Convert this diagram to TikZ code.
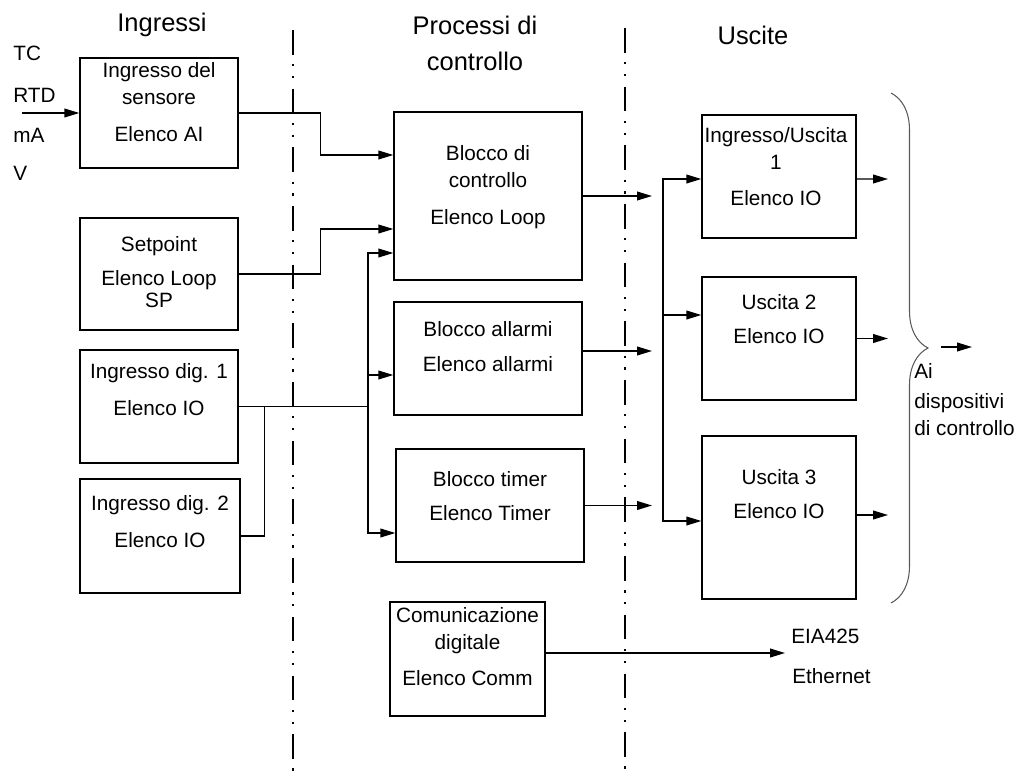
\documentclass[tikz,border=0pt]{standalone}
\usepackage{fontspec}
\setmainfont{Liberation Sans}
\usetikzlibrary{arrows.meta, decorations.pathreplacing}
\newcommand\blkfont{\fontsize{11.8}{15.3}\selectfont}
\newcommand\headfont{\fontsize{14.5}{20.4}\selectfont}

\begin{document}
\begin{tikzpicture}[
  x=0.02cm, y=-0.02cm,
  font          = \blkfont,
  %
  % ── Node styles ─────────────────────────────────────────────────
  % (txt nodes sit on the baseline of their last line)
  box/.style     = {draw, line width=0.8pt, inner sep=0pt},
  txt/.style     = {align=center, inner sep=0pt, anchor=base},
  head/.style    = {txt, font=\headfont},
  side/.style    = {align=left, inner sep=0pt, anchor=base west},
  arrow/.style   = {-{Triangle[length=8.5pt,width=5pt]}, line width=0.8pt},
  wire/.style    = {line width=0.8pt},
  divider/.style = {line width=1.5pt,
                    dash pattern=on 14pt off 5.5pt on 1.2pt off 5.5pt on 1.2pt off 6pt},
  brace/.style   = {decorate, decoration={brace, amplitude=0.74cm},
                    draw=black!65, line width=0.6pt},
]
\useasboundingbox (0,0) rectangle (1015,771);

%% ═══════════════════════════════════════════════════════════════════
%% HEADINGS and dividers
%% ═══════════════════════════════════════════════════════════════════

\node[head] (h-in)   at (162,31) {Ingressi};
\node[head] (h-proc) at (475,70) {Processi di\\controllo};
\node[head] (h-out)  at (753,44) {Uscite};

\draw[divider] (293,30) -- (293,771);
\draw[divider] (625,28) -- (625,771);

%% ═══════════════════════════════════════════════════════════════════
%% COLUMN A — Ingressi
%% ═══════════════════════════════════════════════════════════════════

\node[side] (sig-tc)  at (13,60)  {TC};
\node[side] (sig-rtd) at (13,102) {RTD};
\node[side] (sig-ma)  at (13,142) {mA};
\node[side] (sig-v)   at (13,180) {V};
\coordinate (sig-in) at (22,113);

\node[box, minimum width=3.16cm, minimum height=2.20cm] (sens) at (159,113) {};
\node[txt] (sens-txt) at (159,141) {Ingresso del\\sensore\\[5.3pt]Elenco AI};

\node[box, minimum width=3.16cm, minimum height=2.24cm] (setp) at (159,274) {};
\node[txt] (setp-txt) at (159,307) {Setpoint\\[4pt]Elenco Loop\\[-3pt]SP};

\node[box, minimum width=3.16cm, minimum height=2.26cm] (dig1) at (159,406.5) {};
\node[txt] (dig1-txt) at (159,415) {Ingresso dig. 1\\[5.3pt]Elenco IO};

\node[box, minimum width=3.20cm, minimum height=2.28cm] (dig2) at (160,536) {};
\node[txt] (dig2-txt) at (160,547) {Ingresso dig. 2\\[5.3pt]Elenco IO};

%% ── Arrows ───────────────────────────────────────────────────────
\draw[arrow] (sig-in) -- (sens.west);
\draw[wire] (dig2.east) -| ([shift={(26,0)}]dig1.east);

%% ═══════════════════════════════════════════════════════════════════
%% COLUMN B — Processi di controllo
%% ═══════════════════════════════════════════════════════════════════

\node[box, minimum width=3.76cm, minimum height=3.36cm] (loop) at (488,196) {};
\node[txt] (loop-txt) at (488,224) {Blocco di\\controllo\\[5.3pt]Elenco Loop};

\node[box, minimum width=3.76cm, minimum height=2.26cm] (alarm) at (488,358.5) {};
\node[txt] (alarm-txt) at (488,371) {Blocco allarmi\\[4.6pt]Elenco allarmi};

\node[box, minimum width=3.76cm, minimum height=2.26cm] (timer) at (490,505.5) {};
\node[txt] (timer-txt) at (490,520) {Blocco timer\\[4pt]Elenco Timer};

\node[box, minimum width=3.10cm, minimum height=2.28cm] (comm) at (467.5,659) {};
\node[txt] (comm-txt) at (467.5,685) {Comunicazione\\digitale\\[5pt]Elenco Comm};

%% ── Arrows ───────────────────────────────────────────────────────
\draw[arrow] (sens.east) -- ++(82,0) |- ([shift={(0,-41)}]loop.west);
\draw[arrow] (setp.east) -- ++(82,0) |- ([shift={(0,33)}]loop.west);

% Digital inputs join the bus at x = 368
\coordinate (bus-in) at (368,406.5);
\draw[wire]  (dig1.east) -- (bus-in);
\draw[arrow] (bus-in) |- ([shift={(0,57)}]loop.west);
\draw[arrow] (bus-in) |- ([shift={(0,16.5)}]alarm.west);
\draw[arrow] (bus-in) |- ([shift={(0,27.5)}]timer.west);

%% ═══════════════════════════════════════════════════════════════════
%% COLUMN C — Uscite
%% ═══════════════════════════════════════════════════════════════════

\node[box, minimum width=3.08cm, minimum height=2.46cm] (io1) at (779,176.5) {};
\node[txt] (io1-txt) at (776,205) {Ingresso/Uscita\\1\\[5pt]Elenco IO};

\node[box, minimum width=3.08cm, minimum height=2.46cm] (io2) at (779,338.5) {};
\node[txt] (io2-txt) at (779,343) {Uscita 2\\[4pt]Elenco IO};

\node[box, minimum width=3.08cm, minimum height=3.26cm] (io3) at (779,517.5) {};
\node[txt] (io3-txt) at (779,518) {Uscita 3\\[4pt]Elenco IO};

\coordinate (loop-out)  at (652,196);
\coordinate (alarm-out) at (652,351);
\coordinate (timer-out) at (652,505.5);
\coordinate (bus-out)   at (663,315);
\coordinate (io1-out)   at (888,179);
\coordinate (io2-out)   at (888,338.5);
\coordinate (io3-out)   at (888,515);
\coordinate (comm-out)  at (785,653);

%% ── Arrows ───────────────────────────────────────────────────────
\draw[arrow] (loop.east) -- (loop-out);
\draw[arrow] ([shift={(0,-7.5)}]alarm.east) -- (alarm-out);
\draw[arrow] (timer.east) -- (timer-out);
\draw[arrow] (bus-out) |- ([shift={(0,2.5)}]io1.west);
\draw[arrow] (bus-out) -- ([shift={(0,-23.5)}]io2.west);
\draw[arrow] (bus-out) |- ([shift={(0,3.5)}]io3.west);
\draw[arrow] ([shift={(0,2.5)}]io1.east) -- (io1-out);
\draw[arrow] (io2.east) -- (io2-out);
\draw[arrow] ([shift={(0,-2.5)}]io3.east) -- (io3-out);
\draw[arrow] ([shift={(0,-6)}]comm.east) -- (comm-out);

\node[side] (bus-eia) at (791,643) {EIA425};
\node[side] (bus-eth) at (792,683) {Ethernet};

%% ── Brace to the field devices ──────────────────────────────────
\coordinate (br-top) at (891,93);
\coordinate (br-bot) at (891,603);
\draw[brace] (br-top) -- (br-bot);

\coordinate (dev-a) at (941,347);
\coordinate (dev-b) at (972,347);
\draw[arrow] (dev-a) -- (dev-b);

\node[side] (dev-txt) at (914,435) {Ai\\[1.7pt]dispositivi\\di controllo};

\end{tikzpicture}
\end{document}
